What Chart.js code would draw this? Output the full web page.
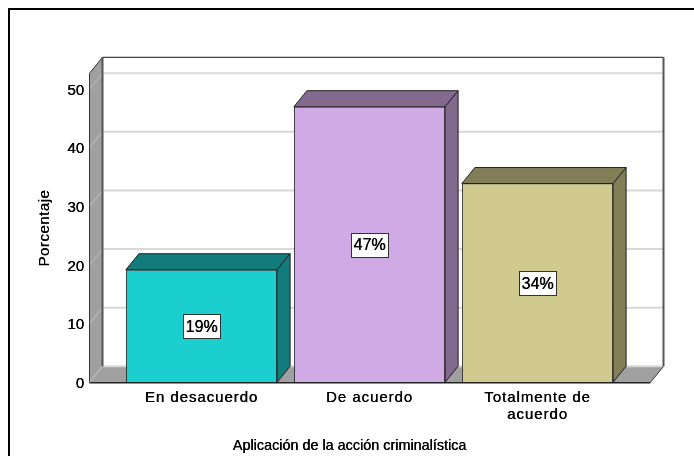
<!DOCTYPE html>
<html><head><meta charset="utf-8">
<style>html,body{margin:0;padding:0;background:#fff}#w{position:relative;width:694px;height:456px;overflow:hidden}canvas{display:block}</style>
<script src="https://cdn.jsdelivr.net/npm/chart.js@4"></script></head>
<body><div id="w"><canvas id="c" width="694" height="456"></canvas></div>
<script>
const categories = ["En desacuerdo", "De acuerdo", ["Totalmente de", "acuerdo"]];
const values = [19.2, 47, 33.9];
const valueLabels = ["19%", "47%", "34%"];
const frontColors = ["#1ccfcf", "#cfaae4", "#d0ca8e"];
const sideColors = ["#127c7c", "#82698e", "#827e58"];
const yTicks = [0, 10, 20, 30, 40, 50];
const yMax = 52.7;
const xTitle = "Aplicación de la acción criminalística";
const yTitle = "Porcentaje";
const DX = 13, DY = -16;
const FONT = "'Liberation Sans'";

function poly(ctx, pts, fill, stroke, lw) {
  ctx.beginPath();
  pts.forEach((p, i) => i ? ctx.lineTo(p[0], p[1]) : ctx.moveTo(p[0], p[1]));
  ctx.closePath();
  if (fill) { ctx.fillStyle = fill; ctx.fill(); }
  if (stroke) { ctx.strokeStyle = stroke; ctx.lineWidth = lw || 1; ctx.stroke(); }
}
function seg(ctx, x0, y0, x1, y1, color, lw) {
  ctx.strokeStyle = color; ctx.lineWidth = lw;
  ctx.beginPath(); ctx.moveTo(x0, y0); ctx.lineTo(x1, y1); ctx.stroke();
}
function wrapText(scale, method, spacing, tx, ty, ex, ey) {
  const orig = scale[method];
  scale[method] = function (...args) {
    const ctx = scale.ctx;
    [0, 1].forEach(k => {
      ctx.save();
      ctx.letterSpacing = spacing + "px";
      ctx.translate(tx + k * ex, ty + k * ey);
      orig.apply(scale, args);
      ctx.restore();
    });
  };
}

const frame3d = {
  id: "frame3d",
  afterLayout(chart) {
    const { x, y } = chart.scales;
    if (x._wrapped) return;
    x._wrapped = true;
    wrapText(x, "drawLabels", 0.95, 0, 0, 0.35, 0);
    wrapText(x, "drawTitle", 0, -20, 1, 0.35, 0);
    wrapText(y, "drawLabels", 0, 0, 1.5, 0.35, 0);
    wrapText(y, "drawTitle", 0.5, 1, 0, 0, 0.35);
  },
  beforeDraw(chart) {
    const { ctx } = chart;
    ctx.save();
    seg(ctx, 9, 9, 694, 9, "#000", 2);
    seg(ctx, 9, 8, 9, 456, "#000", 2);
    ctx.restore();
  },
  beforeDatasetsDraw(chart) {
    const { ctx, scales: { y }, chartArea: a } = chart;
    const L = 89.5, R = 650.5, B = a.bottom, T = a.top;
    ctx.save();
    poly(ctx, [[L, B], [L + DX, B + DY], [R + DX, B + DY], [R, B]], "#a0a0a0", null);
    poly(ctx, [[L, T], [L + DX, T + DY], [L + DX, B + DY], [L, B]], "#a0a0a0", null);
    yTicks.forEach(v => {
      const py = y.getPixelForValue(v);
      seg(ctx, L, py, L + DX, py + DY, "#c4c4c4", 1);
      seg(ctx, L + DX + 1, py + DY, R + DX, py + DY, "#d8d8d8", 2);
    });
    seg(ctx, L, T, L, B, "#333", 1);
    seg(ctx, L, T, L + DX, T + DY, "#333", 1);
    seg(ctx, L + DX, T + DY, R + DX, T + DY, "#111", 1);
    seg(ctx, L + DX, T + DY, L + DX, B + DY, "#555", 2);
    seg(ctx, R + DX, T + DY, R + DX, B + DY, "#555", 2);
    seg(ctx, R + DX, B + DY, R, B, "#333", 1);
    seg(ctx, L, B + .5, R, B + .5, "#222", 1.5);
    chart.getDatasetMeta(0).data.forEach((bar, i) => {
      const l = bar.x - bar.width / 2, r = bar.x + bar.width / 2, t = bar.y, b = bar.base;
      poly(ctx, [[l, t], [l + DX, t + DY], [r + DX, t + DY], [r, t]], sideColors[i], "#222", 1);
      poly(ctx, [[r, t], [r + DX, t + DY], [r + DX, b + DY], [r, b]], sideColors[i], "#222", 1);
    });
    ctx.restore();
  },
  afterDatasetsDraw(chart) {
    const { ctx } = chart;
    ctx.save();
    ctx.font = "16px " + FONT;
    ctx.textAlign = "center"; ctx.textBaseline = "middle";
    chart.getDatasetMeta(0).data.forEach((bar, i) => {
      const cy = (bar.y + bar.base) / 2, w = 37, h = 24;
      const x0 = Math.round(bar.x - w / 2) + .5, y0 = Math.round(cy - h / 2) + .5;
      ctx.fillStyle = "#fff"; ctx.fillRect(x0, y0, w, h);
      ctx.strokeStyle = "#333"; ctx.lineWidth = 1; ctx.strokeRect(x0, y0, w, h);
      ctx.fillStyle = "#000";
      ctx.fillText(valueLabels[i], bar.x, cy + 1.5);
      ctx.fillText(valueLabels[i], bar.x + 0.35, cy + 1.5);
    });
    ctx.restore();
  }
};

new Chart(document.getElementById("c"), {
  type: "bar",
  data: {
    labels: categories,
    datasets: [{
      data: values,
      backgroundColor: frontColors,
      borderColor: "#222",
      borderWidth: 1,
      barPercentage: 0.9,
      categoryPercentage: 1
    }]
  },
  plugins: [frame3d],
  options: {
    responsive: false,
    animation: false,
    layout: { padding: { left: 0, right: 72.5, top: 73.3, bottom: 0 } },
    plugins: { legend: { display: false }, tooltip: { enabled: false } },
    scales: {
      x: {
        grid: { display: false, drawTicks: false },
        border: { display: false },
        ticks: { color: "#000", font: { family: FONT, size: 15, lineHeight: 1.07 }, padding: 8, maxRotation: 0, autoSkip: false },
        title: { display: true, text: xTitle, color: "#000", font: { family: FONT, size: 14.4 }, padding: { top: 4, bottom: 2 } },
        afterFit(s) { s.height = 73.7; }
      },
      y: {
        min: 0, max: yMax,
        afterBuildTicks(s) { s.ticks = yTicks.map(value => ({ value })); },
        grid: { display: false, drawTicks: false },
        border: { display: false },
        ticks: { color: "#000", font: { family: FONT, size: 15 }, padding: 33.5 },
        title: { display: true, text: yTitle, color: "#000", font: { family: FONT, size: 15 }, padding: { top: 35, bottom: 0 } },
        afterFit(s) { s.width = 117.5; }
      }
    }
  }
});
</script></body></html>
